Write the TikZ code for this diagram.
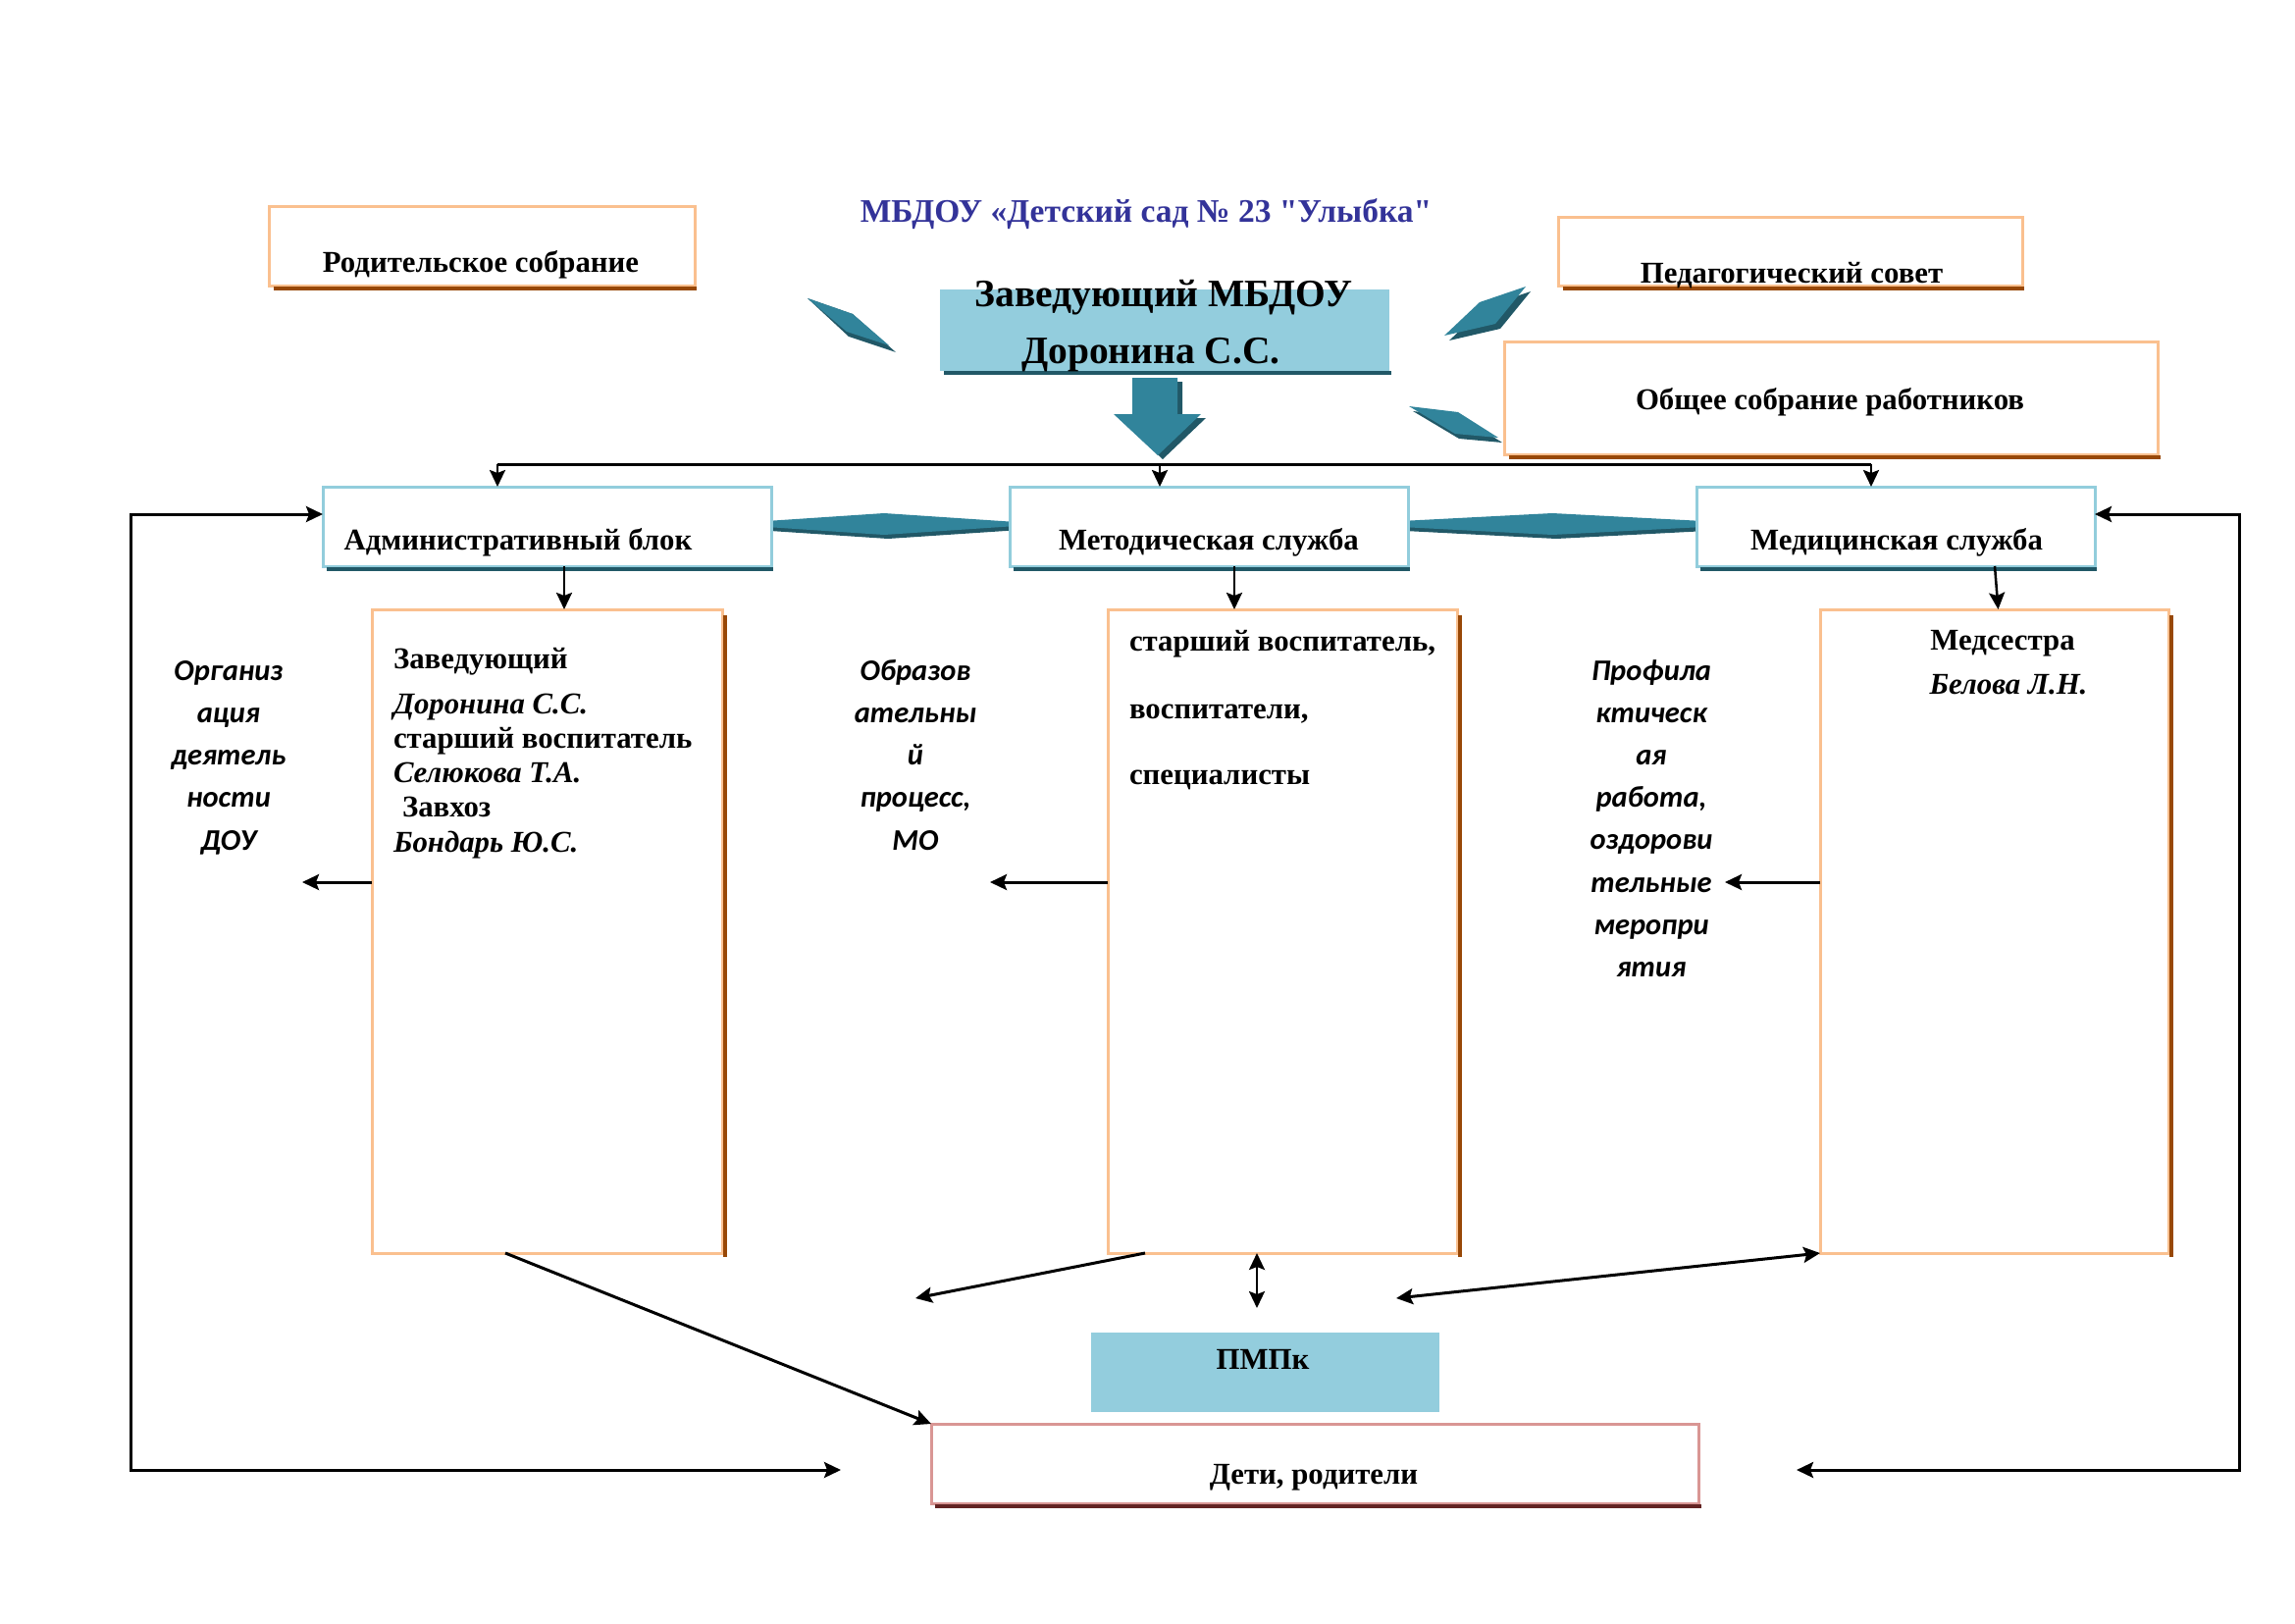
\documentclass[tikz,border=0pt]{standalone}
\usepackage{fontspec}
\setmainfont{Liberation Serif}
\newfontfamily\titlefont{Liberation Serif}[Ligatures=TeXOff]
\newfontfamily\calibrifont{Carlito}
\usetikzlibrary{arrows.meta,calc}
\definecolor{teal1}{HTML}{31849B}
\definecolor{teal2}{HTML}{215867}
\definecolor{lblue}{HTML}{93CDDD}
\definecolor{oborder}{HTML}{FAC08F}
\definecolor{oshadow}{HTML}{984807}
\definecolor{bborder}{HTML}{92CDDC}
\definecolor{bshadow}{HTML}{215867}
\definecolor{pborder}{HTML}{D99694}
\definecolor{pshadow}{HTML}{632423}
\definecolor{titleblue}{RGB}{51,51,153}
\begin{document}
\begin{tikzpicture}[x=1pt,y=-1pt,
 >={Stealth[length=17pt,width=16pt,inset=3pt]},
 every node/.style={inner sep=0pt,outer sep=0pt},
 obox/.style={draw=oborder,line width=3pt,fill=white},
 bblk/.style={draw=bborder,line width=3pt,fill=white},
 pbox/.style={draw=pborder,line width=3pt,fill=white},
 tx/.style={font=\fontsize{30.8}{36}\selectfont\bfseries,anchor=base},
 txl/.style={font=\fontsize{30.8}{36}\selectfont\bfseries,anchor=base west},
 txil/.style={font=\fontsize{30.8}{36}\selectfont\bfseries\itshape,anchor=base west},
 txi/.style={font=\fontsize{30.8}{36}\selectfont\bfseries\itshape,anchor=base},
 side/.style={font=\calibrifont\fontsize{30.5}{36}\selectfont\bfseries\itshape,anchor=base},
 conn/.style={line width=3pt},
 thinc/.style={line width=2.5pt},
 oshad/.style={draw=oshadow,line width=3.5pt},
 bshad/.style={draw=bshadow,line width=3.5pt},
 pshad/.style={draw=pshadow,line width=3.5pt},
]
\fill[white] (0,0) rectangle (2339,1654);
\useasboundingbox (0,0) rectangle (2339,1654);

% decorative teal shapes
\fill[teal2] (823,304) -- (869,320) -- (913,359) -- (865,343) -- cycle;
\fill[teal1] (823,304) -- (869,320) -- (906,352) -- (863,338) -- cycle;
\fill[teal2] (1560,297) -- (1513,313) -- (1477,347) -- (1529,335) -- cycle;
\fill[teal1] (1555,292) -- (1508,308) -- (1472,342) -- (1524,330) -- cycle;
\fill[teal2] (1440,419) -- (1490,425) -- (1531,451) -- (1487,447) -- cycle;
\fill[teal1] (1436,414) -- (1486,420) -- (1527,446) -- (1483,442) -- cycle;

% diamonds between blocks
\fill[teal2] (740,538) -- (905,527) -- (1070,538) -- (905,549) -- cycle;
\fill[teal1] (736,534) -- (901,523) -- (1066,534) -- (901,545) -- cycle;
\fill[teal2] (1374,538) -- (1586,527) -- (1798,538) -- (1586,549) -- cycle;
\fill[teal1] (1370,534) -- (1582,523) -- (1794,534) -- (1582,545) -- cycle;

% title
\node[font=\titlefont\fontsize{33.5}{38}\selectfont\bfseries,text=titleblue,anchor=base] (title) at (1168,226) {МБДОУ «Детский сад № 23 "Улыбка"};

% top boxes
\node[obox,minimum width=434pt,minimum height=81pt] (rodsob) at (491,250.5) {};
\draw[oshad] ([xshift=5pt,yshift=-3pt]rodsob.south west) -- ([xshift=2pt,yshift=-3pt]rodsob.south east);
\node[tx] (rodsobt) at (490,277) {Родительское собрание};

\node[obox,minimum width=473pt,minimum height=70pt] (ped) at (1824.5,256) {};
\draw[oshad] ([xshift=5pt,yshift=-3pt]ped.south west) -- ([xshift=2pt,yshift=-3pt]ped.south east);
\node[tx] (pedt) at (1826,288) {Педагогический совет};

\node[obox,minimum width=666pt,minimum height=115pt] (obsh) at (1866,405.5) {};
\draw[oshad] ([xshift=5pt,yshift=-3pt]obsh.south west) -- ([xshift=3pt,yshift=-3pt]obsh.south east);
\node[tx] (obsht) at (1865,417) {Общее собрание работников};

% head box
\node[fill=lblue,minimum width=458pt,minimum height=83pt] (zav) at (1187,336.5) {};
\draw[bshad] ([xshift=4pt,yshift=-2pt]zav.south west) -- ([xshift=2pt,yshift=-2pt]zav.south east);
\node[tx,font=\fontsize{39.5}{46}\selectfont\bfseries] (zav1) at (1186,312) {Заведующий МБДОУ};
\node[tx,font=\fontsize{39.5}{46}\selectfont\bfseries] (zav2) at (1173,370) {Доронина С.С.};

% big arrow
\fill[teal2] (1159,389) -- (1205,389) -- (1205,426) -- (1229,426) -- (1185,468) -- (1140,426) -- (1159,426) -- cycle;
\fill[teal1] (1154,385) -- (1200,385) -- (1200,422) -- (1224,422) -- (1180,464) -- (1135,422) -- (1154,422) -- cycle;

% blocks
\node[bblk,minimum width=457pt,minimum height=81pt] (adblk) at (557.5,536.5) {};
\draw[bshad] ([xshift=4pt,yshift=-3pt]adblk.south west) -- ([xshift=2pt,yshift=-3pt]adblk.south east);
\node[tx] (adblkt) at (528,560) {Административный блок};

\node[bblk,minimum width=406pt,minimum height=81pt] (meblk) at (1232,536.5) {};
\draw[bshad] ([xshift=4pt,yshift=-3pt]meblk.south west) -- ([xshift=2pt,yshift=-3pt]meblk.south east);
\node[tx] (meblkt) at (1232,560) {Методическая служба};

\node[bblk,minimum width=406pt,minimum height=81pt] (mdblk) at (1932,536.5) {};
\draw[bshad] ([xshift=4pt,yshift=-3pt]mdblk.south west) -- ([xshift=2pt,yshift=-3pt]mdblk.south east);
\node[tx] (mdblkt) at (1933,560) {Медицинская служба};

% bus
\coordinate (busL) at (507,473);
\coordinate (busM) at (1182,473);
\coordinate (busR) at (1907,473);
\draw[conn] (busL) -- (busR);
\draw[thinc,->] (busL) -- (busL |- adblk.north);
\draw[thinc,->] (busM) -- (busM |- meblk.north);
\draw[thinc,->] (busR) -- (busR |- mdblk.north);

% staff boxes
\node[obox,minimum width=357pt,minimum height=656pt] (adst) at (557.5,949) {};
\draw[oshad] ([xshift=3pt,yshift=-6pt]adst.north east) -- ([xshift=3pt,yshift=-4pt]adst.south east);
\node[obox,minimum width=356pt,minimum height=656pt] (mest) at (1307,949) {};
\draw[oshad] ([xshift=3pt,yshift=-6pt]mest.north east) -- ([xshift=3pt,yshift=-4pt]mest.south east);
\node[obox,minimum width=355pt,minimum height=656pt] (mdst) at (2032.5,949) {};
\draw[oshad] ([xshift=3pt,yshift=-6pt]mdst.north east) -- ([xshift=3pt,yshift=-4pt]mdst.south east);

\draw[thinc,->] ([xshift=17.5pt]adblk.south) -- ([xshift=17.5pt]adst.north);
\draw[thinc,->] ([xshift=26pt]meblk.south) -- ([xshift=-49pt]mest.north);
\draw[thinc,->] ([xshift=101pt]mdblk.south) -- ([xshift=4pt]mdst.north);

% staff texts
\node[txl] (a1) at (401,681) {Заведующий};
\node[txil] (a2) at (401,727) {Доронина С.С.};
\node[txl] (a3) at (401,762) {старший воспитатель};
\node[txil] (a4) at (401,797) {Селюкова Т.А.};
\node[txl] (a5) at (410,832) {Завхоз};
\node[txil] (a6) at (401,868) {Бондарь Ю.С.};

\node[txl] (m1) at (1151,663) {старший воспитатель,};
\node[txl] (m2) at (1151,732) {воспитатели,};
\node[txl] (m3) at (1151,799) {специалисты};

\node[tx] (d1) at (2041,662) {Медсестра};
\node[txi] (d2) at (2047,707) {Белова Л.Н.};

% side labels
\foreach \t [count=\i] in {Организ,ация,деятель,ности,ДОУ}
  \node[side] (sa\i) at (233,{693+43.3*(\i-1)}) {\t};
\foreach \t [count=\i] in {Образов,ательны,й,{процесс,},МО}
  \node[side] (sb\i) at (933,{693+43.3*(\i-1)}) {\t};
\foreach \t [count=\i] in {Профила,ктическ,ая,{работа,},оздорови,тельные,меропри,ятия}
  \node[side] (sc\i) at (1683,{693+43.2*(\i-1)}) {\t};

% side arrows
\coordinate (la) at (308,899);
\coordinate (lb) at (1009,899);
\coordinate (lc) at (1758,899);
\draw[conn,->] (adst.west |- la) -- (la);
\draw[conn,->] (mest.west |- lb) -- (lb);
\draw[conn,->] (mdst.west |- lc) -- (lc);

% bottom boxes
\node[fill=lblue,minimum width=355pt,minimum height=81pt] (pmpk) at (1289.5,1398.5) {};
\node[tx] (pmpkt) at (1287,1395) {ПМПк};
\node[pbox,minimum width=782pt,minimum height=81pt] (deti) at (1340,1491.5) {};
\draw[pshad] ([xshift=4pt,yshift=-3pt]deti.south west) -- ([xshift=3pt,yshift=-3pt]deti.south east);
\node[tx] (detit) at (1339,1512) {Дети, родители};

% bottom connectors
\coordinate (bm) at (933,1323);
\coordinate (bd) at (1281,1333);
\coordinate (br) at (1423,1323);
\draw[conn,->] ([xshift=-42.5pt]adst.south) -- (deti.north west);
\draw[conn,->] ([xshift=-140pt]mest.south) -- (bm);
\draw[thinc,<->] ([xshift=-26pt]mest.south) -- (bd);
\draw[conn,<->] (br) -- (mdst.south west);

% outer loops
\coordinate (ltop) at (133,524);
\coordinate (lbot) at (133,1498);
\coordinate (dl) at (857,1498);
\coordinate (rtop) at (2282,524);
\coordinate (rbot) at (2282,1498);
\coordinate (dr) at (1831,1498);
\draw[conn,<->] (adblk.west |- ltop) -- (ltop) -- (lbot) -- (dl);
\draw[conn,<->] (mdblk.east |- rtop) -- (rtop) -- (rbot) -- (dr);
\end{tikzpicture}
\end{document}
